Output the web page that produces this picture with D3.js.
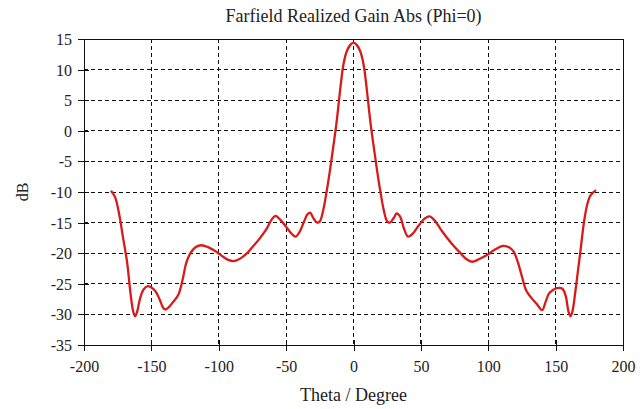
<!DOCTYPE html>
<html>
<head>
<meta charset="utf-8">
<script src="https://cdn.jsdelivr.net/npm/d3@7"></script>
<style>
  html, body { margin: 0; padding: 0; background: #fff; }
  svg { display: block; }
  text { font-family: "Liberation Serif", "Times New Roman", serif; fill: #222; }
</style>
</head>
<body>
<svg id="chart" width="640" height="409"></svg>
<script>
// Farfield realized gain (Phi = 0) versus theta
const theta = [
  -180, -177, -174, -171, -168, -165.5, -163.5, -162, -160.5, -158.5,
  -156, -153, -150, -147, -144, -141, -139.5, -137, -134, -130,
  -127, -124, -121, -117, -113, -108, -103, -98, -93, -89,
  -85, -80, -75, -70, -65, -61, -58, -54, -50, -46,
  -43, -40, -37, -34, -32, -30, -27, -25, -22.5, -20,
  -17.5, -15, -12.5, -10, -7.5, -5, -2.5, 0,
  2.5, 5, 7.5, 10, 12.5, 15, 17.5, 20, 22.5, 25,
  27, 30, 32, 34.5, 37.5, 40.5, 44, 48, 53, 56.5,
  60, 66, 72, 79, 84, 88, 93, 99, 105, 111,
  116, 119, 122, 125, 128, 132, 136, 140, 142.5, 145,
  148, 151, 155, 157.5, 159.5, 161, 162.5, 164.5, 166.5, 168.5,
  171, 173.5, 176, 180
];
const gain = [
  -9.8, -10.8, -13.5, -17.5, -21.5, -26.5, -29.5, -30.3, -29.5, -27.5,
  -26.0, -25.4, -25.6, -26.2, -27.5, -29.0, -29.2, -28.8, -28.0, -26.8,
  -24.5, -21.5, -20.0, -19.0, -18.7, -19.0, -19.6, -20.4, -21.1, -21.3,
  -21.0, -20.2, -19.0, -17.7, -16.2, -14.6, -13.9, -14.6, -15.7, -16.8,
  -17.3, -16.5, -15.0, -13.6, -13.4, -14.2, -15.0, -14.8, -13.0, -10.0,
  -6.5, -2.6, 1.5, 6.5, 10.8, 13.0, 14.0, 14.4,
  14.0, 13.0, 10.8, 6.5, 1.5, -2.6, -6.5, -10.0, -13.0, -14.8,
  -15.0, -14.2, -13.5, -14.0, -16.0, -17.3, -16.8, -15.6, -14.3, -14.0,
  -14.6, -16.5, -18.2, -19.9, -21.0, -21.4, -21.0, -20.3, -19.4, -18.8,
  -19.1, -19.8, -21.5, -23.8, -26.0, -27.3, -28.3, -29.3, -28.0, -26.6,
  -26.0, -25.7, -25.8, -27.0, -29.5, -30.3, -29.5, -26.5, -23.0, -19.5,
  -15.0, -12.0, -10.5, -9.7
];

const xTicks = [-200, -150, -100, -50, 0, 50, 100, 150, 200];
const yTicks = [15, 10, 5, 0, -5, -10, -15, -20, -25, -30, -35];

const title = "Farfield Realized Gain Abs (Phi=0)";
const xLabel = "Theta / Degree";
const yLabel = "dB";

const margin = { left: 84, right: 17, top: 39, bottom: 64 };
const W = 640, H = 409;
const svg = d3.select("#chart");

const x = d3.scaleLinear().domain([-200, 200]).range([margin.left, W - margin.right]);
const y = d3.scaleLinear().domain([-35, 15]).range([H - margin.bottom, margin.top]);

const x0 = x.range()[0], x1 = x.range()[1];
const yTop = y.range()[1], yBot = y.range()[0];

// plain hyphen for negative numbers
const fmt = d => String(d);

// dashed grid
const grid = svg.append("g").attr("stroke", "#111").attr("stroke-width", 1)
  .attr("stroke-dasharray", "4,3").attr("shape-rendering", "crispEdges");
grid.selectAll("line.v").data(xTicks.filter(t => t > -200 && t < 200)).join("line")
  .attr("class", "v")
  .attr("x1", d => x(d)).attr("x2", d => x(d))
  .attr("y1", yTop).attr("y2", yBot);
grid.selectAll("line.h").data(yTicks.filter(t => t > -35 && t < 15)).join("line")
  .attr("class", "h")
  .attr("x1", x0).attr("x2", x1)
  .attr("y1", d => y(d)).attr("y2", d => y(d));

// frame
svg.append("rect")
  .attr("x", x0).attr("y", yTop)
  .attr("width", x1 - x0).attr("height", yBot - yTop)
  .attr("fill", "none").attr("stroke", "#111").attr("stroke-width", 1)
  .attr("shape-rendering", "crispEdges");

// axes with ticks crossing the frame
const xAxis = svg.append("g").attr("transform", `translate(0,${yBot})`)
  .call(d3.axisBottom(x).tickValues(xTicks).tickSize(6).tickSizeOuter(0).tickFormat(fmt));
xAxis.select(".domain").remove();
xAxis.selectAll(".tick line").attr("y1", -5).attr("stroke", "#111").attr("shape-rendering", "crispEdges");
xAxis.selectAll(".tick text").attr("dy", 0).attr("y", 27)
  .style("font-size", "16px").style("font-family", "Liberation Serif, serif").attr("fill", "#222");

const yAxis = svg.append("g").attr("transform", `translate(${x0},0)`)
  .call(d3.axisLeft(y).tickValues(yTicks).tickSize(6).tickSizeOuter(0).tickFormat(fmt));
yAxis.select(".domain").remove();
yAxis.selectAll(".tick line").attr("x1", 5).attr("stroke", "#111").attr("shape-rendering", "crispEdges");
yAxis.selectAll(".tick text").attr("x", -12).attr("dy", "0.34em")
  .style("font-size", "16px").style("font-family", "Liberation Serif, serif").attr("fill", "#222");

// gain curve
const line = d3.line()
  .x((d, i) => x(theta[i]))
  .y((d, i) => y(gain[i]))
  .curve(d3.curveCatmullRom.alpha(0.5));

svg.append("path")
  .datum(gain)
  .attr("d", line)
  .attr("fill", "none")
  .attr("stroke", "#d81a1a")
  .attr("stroke-width", 2.3)
  .attr("stroke-linejoin", "round");

// labels
svg.append("text").attr("x", (x0 + x1) / 2).attr("y", 22)
  .attr("text-anchor", "middle").style("font-size", "18px").text(title);
svg.append("text").attr("x", (x0 + x1) / 2).attr("y", 401)
  .attr("text-anchor", "middle").style("font-size", "18px").text(xLabel);
svg.append("text")
  .attr("transform", `translate(28,${(yTop + yBot) / 2}) rotate(-90)`)
  .attr("text-anchor", "middle").style("font-size", "16px").text(yLabel);
</script>
</body>
</html>
